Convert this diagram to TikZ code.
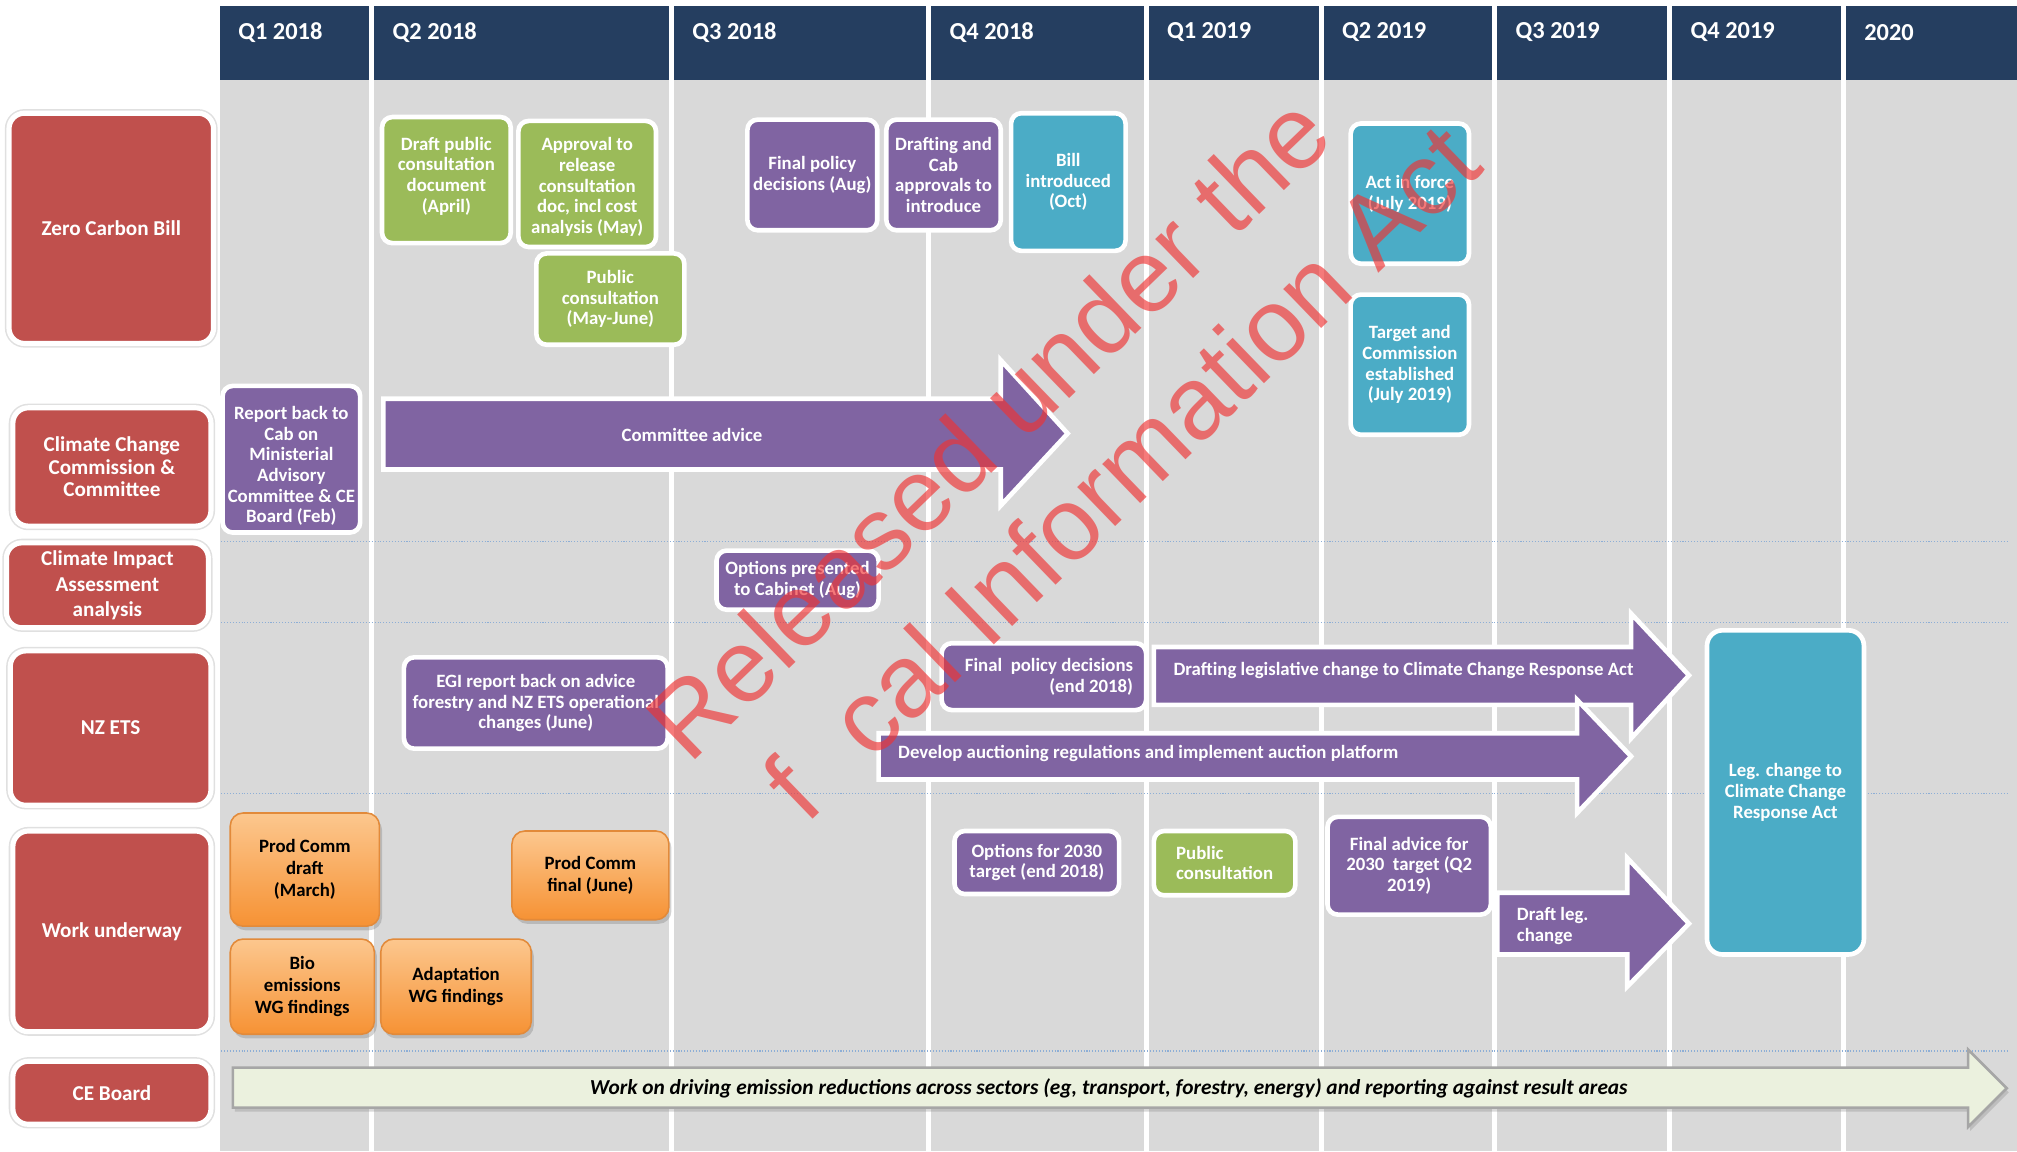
\documentclass[tikz,border=0pt]{standalone}
\usepackage{fontspec}
\setmainfont{Carlito}
\newfontfamily\wmfont{Liberation Sans}
\usetikzlibrary{fit,shadows}
\definecolor{navy}{RGB}{37,62,96}
\definecolor{colgray}{RGB}{217,217,217}
\definecolor{labelred}{RGB}{192,80,77}
\definecolor{leafgreen}{RGB}{155,187,89}
\definecolor{plum}{RGB}{128,100,162}
\definecolor{seateal}{RGB}{75,172,198}
\definecolor{orangetop}{RGB}{252,199,142}
\definecolor{orangebot}{RGB}{246,146,52}
\definecolor{orangeline}{RGB}{226,138,58}
\definecolor{ceback}{RGB}{235,241,222}
\definecolor{sepblue}{RGB}{141,174,214}
\definecolor{stamp}{RGB}{240,50,50}
\begin{document}
\begin{tikzpicture}[x=0.25mm, y=-0.25mm,
    boxtext/.style={text=white, font=\bfseries\fontsize{10.4}{11.4}\selectfont, align=center},
    orangetext/.style={boxtext, text=black, font=\bfseries\fontsize{10.4}{12.2}\selectfont},
    labeltext/.style={text=white, font=\bfseries\fontsize{11.7}{12.4}\selectfont, align=center},
    box/.style={inner sep=0pt, rounded corners=2mm, draw=white, line width=0.9mm},
    greenbox/.style={box, fill=leafgreen},
    purplebox/.style={box, fill=plum},
    tealbox/.style={box, fill=seateal},
    orangebox/.style={inner sep=0pt, rounded corners=2.5mm, draw=orangeline, line width=0.3mm,
        top color=orangetop, bottom color=orangebot,
        drop shadow={shadow xshift=0.5mm, shadow yshift=-0.8mm, opacity=0.35}},
    rowlabel/.style={inner sep=0pt, rounded corners=3mm, fill=labelred, draw=white, line width=1mm,
        preaction={draw=black!12, line width=1.6mm}},
    blockarrow/.style={fill=plum, draw=white, line width=0.9mm, line join=miter},
    sepline/.style={sepblue, densely dotted, line width=0.6pt},
    stamptext/.style={text=stamp, text opacity=0.65, font=\wmfont\fontsize{57}{57}\selectfont,
        rotate=44, anchor=base west, inner sep=0pt}
]
\useasboundingbox (0,0) rectangle (1568,895);

% quarter columns and headings
\foreach \xa/\xb/\qname [count=\i] in {171/287/Q1 2018, 291/520/Q2 2018, 524/720/Q3 2018,
        724/889/Q4 2018, 893/1025/Q1 2019, 1029/1160/Q2 2019, 1164/1296/Q3 2019,
        1300/1431/Q4 2019, 1435/1568/2020}{
    \fill[colgray] (\xa,62) rectangle (\xb,895);
    \fill[navy] (\xa,5) rectangle (\xb,62);
    \node[text=white, font=\bfseries\fontsize{13.5}{16}\selectfont, anchor=west, inner sep=0pt]
        (q\i) at (\xa+14,25) {\qname};
}
\foreach \ysep in {421,484,617,817}
    \draw[sepline] (172,\ysep) -- (1560,\ysep);

% row labels
\node[rowlabel, fit={(7,88) (166,267)}] (zcb) {};
\node[labeltext] (zcbT) at (zcb.center) {Zero Carbon Bill};
\node[rowlabel, fit={(10,317) (164,409)}] (ccc) {};
\node[labeltext] (cccT) at (ccc.center) {Climate Change\\Commission \&\\Committee};
\node[rowlabel, fit={(5,422) (162,488)}] (cia) {};
\node[labeltext, font=\bfseries\fontsize{11.7}{14}\selectfont] (ciaT) at (cia.center) {Climate Impact\\Assessment\\analysis};
\node[rowlabel, fit={(8,506) (164,626)}] (ets) {};
\node[labeltext] (etsT) at (ets.center) {NZ ETS};
\node[rowlabel, fit={(10,646) (164,802)}] (work) {};
\node[labeltext] (workT) at (work.center) {Work underway};
\node[rowlabel, fit={(10,825) (164,874)}] (ceb) {};
\node[labeltext] (cebT) at (ceb.center) {CE Board};

% Zero Carbon Bill
\node[greenbox, fit={(297,91) (397,189)}] (draftdoc) {};
\node[boxtext] (draftdocT) at ([yshift=0.8mm]draftdoc.center) {Draft public\\consultation\\document\\(April)};
\node[greenbox, fit={(403,94) (510,192)}] (approval) {};
\node[boxtext] (approvalT) at ([yshift=-0.6mm]approval.center) {Approval to\\release\\consultation\\doc, incl cost\\analysis (May)};
\node[greenbox, fit={(417,197) (532,268)}] (consult) {};
\node[boxtext] (consultT) at (consult.center) {Public\\consultation\\(May-June)};
\node[purplebox, fit={(581,93) (682,179)}] (policyaug) {};
\node[boxtext] (policyaugT) at (policyaug.center) {Final policy\\decisions (Aug)};
\node[purplebox, fit={(689,93) (778,179)}] (cabapp) {};
\node[boxtext] (cabappT) at (cabapp.center) {Drafting and\\Cab\\approvals to\\introduce};
\node[tealbox, fit={(786,88) (875,195)}] (billin) {};
\node[boxtext] (billinT) at (billin.center) {Bill\\introduced\\(Oct)};
\node[tealbox, fit={(1050,96) (1142,205)}] (inforce) {};
\node[boxtext] (inforceT) at (inforce.center) {Act in force\\(July 2019)};
\node[tealbox, fit={(1050,229) (1142,338)}] (target) {};
\node[boxtext] (targetT) at (target.center) {Target and\\Commission\\established\\(July 2019)};

% Commission and Committee
\node[purplebox, fit={(173,300) (280,414)}] (reportback) {};
\node[boxtext] (reportbackT) at ([yshift=-1.3mm]reportback.center) {Report back to\\Cab on\\Ministerial\\Advisory\\Committee \& CE\\Board (Feb)};
\draw[blockarrow] (298,310) -- (778,310) -- (778,280) -- (830,337) -- (778,393) -- (778,365) -- (298,365) -- cycle;
\node[boxtext] (advice) at (538,338) {Committee advice};

% Climate Impact Assessment
\node[purplebox, fit={(557,428) (683,474)}] (options) {};
\node[boxtext] (optionsT) at (options.center) {Options presented\\to Cabinet (Aug)};

% NZ ETS
\node[purplebox, fit={(314,511) (519,582)}] (egi) {};
\node[boxtext] (egiT) at (egi.center) {EGI report back on advice\\forestry and NZ ETS operational\\changes (June)};
\node[purplebox, fit={(732,500) (891,552)}] (policyend) {};
\node[boxtext, align=right] (policyendT) at ([xshift=1mm]policyend.center) {Final\ \ policy decisions\\(end 2018)};
\draw[blockarrow] (897,503) -- (1268,503) -- (1268,477) -- (1313,525) -- (1268,574) -- (1268,548) -- (897,548) -- cycle;
\node[boxtext, anchor=west, inner sep=0pt] (drafting) at (912,521) {Drafting legislative change to Climate Change Response Act};
\draw[blockarrow] (683,570) -- (1226,570) -- (1226,544) -- (1268,588) -- (1226,632) -- (1226,606) -- (683,606) -- cycle;
\node[boxtext, anchor=west, inner sep=0pt] (auction) at (698,586) {Develop auctioning regulations and implement auction platform};
\node[tealbox, rounded corners=3mm, fit={(1327,490) (1449,742)}] (legchange) {};
\node[boxtext] (legchangeT) at (legchange.center) {Leg. change to\\Climate Change\\Response Act};

% Work underway
\node[orangebox, fit={(179,632) (295,720)}] (pcdraft) {};
\node[orangetext] (pcdraftT) at (pcdraft.center) {Prod Comm\\draft\\(March)};
\node[orangebox, fit={(398,646) (520,715)}] (pcfinal) {};
\node[orangetext] (pcfinalT) at (pcfinal.center) {Prod Comm\\final (June)};
\node[orangebox, fit={(179,730) (291,804)}] (bio) {};
\node[orangetext] (bioT) at (bio.center) {Bio\\emissions\\WG findings};
\node[orangebox, fit={(296,730) (413,804)}] (adapt) {};
\node[orangetext] (adaptT) at (adapt.center) {Adaptation\\WG findings};
\node[purplebox, fit={(742,646) (870,695)}] (opt2030) {};
\node[boxtext] (opt2030T) at (opt2030.center) {Options for 2030\\target (end 2018)};
\node[greenbox, fit={(897,646) (1007,696)}] (pubcons) {};
\node[boxtext, align=left] (pubconsT) at (pubcons.center) {Public\\consultation};
\node[purplebox, fit={(1032,635) (1159,711)}] (advice2030) {};
\node[boxtext] (advice2030T) at (advice2030.center) {Final advice for\\2030\ \ target (Q2\\2019)};
\draw[blockarrow] (1164,694) -- (1265,694) -- (1265,667) -- (1313,718) -- (1265,767) -- (1265,742) -- (1164,742) -- cycle;
\node[boxtext, align=left, anchor=west, inner sep=0pt] (draftleg) at (1179,720) {Draft leg.\\change};

% CE Board
\draw[fill=ceback, draw=black!35, line width=0.5mm, line join=miter,
    drop shadow={shadow xshift=0.4mm, shadow yshift=-0.8mm, opacity=0.3}]
    (181,830) -- (1530,830) -- (1530,816) -- (1560,846) -- (1530,876) -- (1530,861) -- (181,861) -- cycle;
\node[font=\bfseries\itshape\fontsize{11.8}{13}\selectfont] (ceflow) at (862,846)
    {Work on driving emission reductions across sectors (eg, transport, forestry, energy) and reporting against result areas};

% release stamp
\node[stamptext] (stamp1) at (536,595) {Released under the};
\node[stamptext] (stamp2) at (627,642) {f\hspace{0.6em}cal Information Act};
\end{tikzpicture}
\end{document}
